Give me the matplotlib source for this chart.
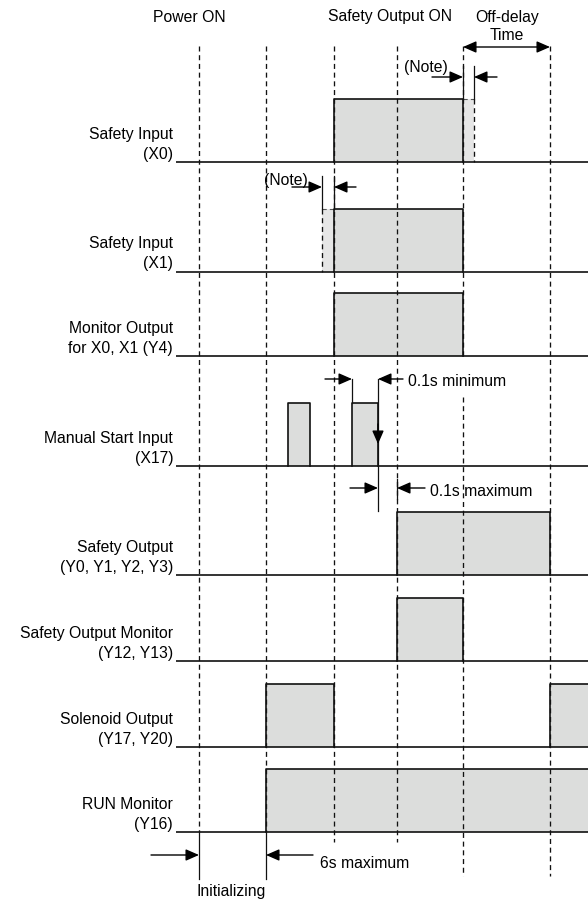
import matplotlib
matplotlib.use("Agg")
import matplotlib.pyplot as plt
from matplotlib.patches import Rectangle

plt.rcParams['font.family'] = ['Liberation Sans', 'DejaVu Sans']

# ---------------- data ----------------
# event times (schematic time axis, shown as vertical dashed guides)
event_names = ["Power ON", "Init end", "Inputs ON", "Safety Output ON", "Inputs OFF", "Off-delay end"]
event_t = [199, 266, 334, 397, 463, 550]

row_labels = [
    ("Safety Input", "(X0)"),
    ("Safety Input", "(X1)"),
    ("Monitor Output", "for X0, X1 (Y4)"),
    ("Manual Start Input", "(X17)"),
    ("Safety Output", "(Y0, Y1, Y2, Y3)"),
    ("Safety Output Monitor", "(Y12, Y13)"),
    ("Solenoid Output", "(Y17, Y20)"),
    ("RUN Monitor", "(Y16)"),
]
# ON intervals (start, end) on the time axis for each signal
row_on = [
    [(334, 463)],
    [(334, 463)],
    [(334, 463)],
    [(288, 310), (352, 378)],
    [(397, 550)],
    [(397, 463)],
    [(266, 334), (550, 620)],
    [(266, 620)],
]
# tolerance (Note) extensions
x0_note = (463, 474)
x1_note = (322, 334)

# ---------------- layout ----------------
W, H = 588, 903
row_base = [162.5, 272.5, 357, 467, 576, 662, 748, 833]
pulse_h = 63
FILL = "#dcdddc"
FILL2 = "#e6e6e6"
EDGE = "#111111"
FS = 11.3

fig = plt.figure(figsize=(W / 100, H / 100), dpi=100)
ax = fig.add_axes([0, 0, 1, 1])
ax.set_xlim(0, W)
ax.set_ylim(H, 0)
ax.axis("off")

dash = (0, (3.8, 2.8))
DLW = 0.95

def arrow(tail, head):
    ax.annotate("", xy=head, xytext=tail,
                arrowprops=dict(arrowstyle="-|>,head_length=0.8,head_width=0.35",
                                color="black", lw=1.0, shrinkA=0, shrinkB=0))

# signals
for (l1, l2), base, ons in zip(row_labels, row_base, row_on):
    ax.plot([176, W], [base, base], color=EDGE, lw=1.2, solid_capstyle="butt", zorder=3)
    for (a, b) in ons:
        ax.add_patch(Rectangle((a, base - pulse_h), b - a, pulse_h, facecolor=FILL,
                               edgecolor="none", zorder=1))
        ax.plot([a, a, b, b], [base, base - pulse_h, base - pulse_h, base],
                color=EDGE, lw=1.2, zorder=3)
    ax.text(173, base - 24, l1, ha="right", va="baseline", fontsize=FS)
    ax.text(173, base - 4, l2, ha="right", va="baseline", fontsize=FS)

# note extensions
b0 = row_base[0]
ax.add_patch(Rectangle((x0_note[0], b0 - pulse_h), x0_note[1] - x0_note[0], pulse_h,
                       facecolor=FILL2, edgecolor="none", zorder=1))
ax.plot([x0_note[0], x0_note[1]], [b0 - pulse_h] * 2, color="#555555", lw=0.8, ls=dash, zorder=2)
ax.plot([x0_note[1], x0_note[1]], [b0 - pulse_h, b0], color=EDGE, lw=DLW, ls=dash, zorder=2)
ax.plot([x0_note[0], x0_note[0]], [67, b0 - pulse_h], color=EDGE, lw=0.9, zorder=3)
ax.plot([x0_note[1], x0_note[1]], [67, b0 - pulse_h], color=EDGE, lw=0.9, zorder=3)

b1 = row_base[1]
ax.add_patch(Rectangle((x1_note[0], b1 - pulse_h), x1_note[1] - x1_note[0], pulse_h,
                       facecolor=FILL2, edgecolor="none", zorder=1))
ax.plot([x1_note[0], x1_note[1]], [b1 - pulse_h] * 2, color="#555555", lw=0.8, ls=dash, zorder=2)
ax.plot([x1_note[0], x1_note[0]], [b1 - pulse_h, b1], color=EDGE, lw=DLW, ls=dash, zorder=2)
ax.plot([x1_note[0], x1_note[0]], [177, b1 - pulse_h], color=EDGE, lw=0.9, zorder=3)
ax.plot([x1_note[1], x1_note[1]], [177, b1 - pulse_h], color=EDGE, lw=0.9, zorder=3)

# dashed event guides
t0, t1, t2, t3, t4, t5 = event_t
guides = [
    (t0, [(47, 833)]),
    (t1, [(47, 833)]),
    (t2, [(47, 843)]),
    (t3, [(47, 843)]),
    (t4, [(47, 357), (398, 877)]),
    (t5, [(47, 877)]),
]
for x, segs in guides:
    for (ya, yb) in segs:
        ax.plot([x, x], [ya, yb], color=EDGE, lw=DLW, ls=dash, zorder=2)
# solid extension lines for the initializing dimension
ax.plot([t0, t0], [833, 880], color=EDGE, lw=0.9, zorder=3)
ax.plot([t1, t1], [833, 880], color=EDGE, lw=0.9, zorder=3)

# header texts
ax.text(189, 22, "Power ON", ha="center", va="baseline", fontsize=FS)
ax.text(390, 21, "Safety Output ON", ha="center", va="baseline", fontsize=FS)
ax.text(507, 22, "Off-delay", ha="center", va="baseline", fontsize=FS)
ax.text(507, 40, "Time", ha="center", va="baseline", fontsize=FS)
ax.annotate("", xy=(t4, 48), xytext=(t5, 48),
            arrowprops=dict(arrowstyle="<|-|>,head_length=0.8,head_width=0.35",
                            color="black", lw=1.0, shrinkA=0, shrinkB=0))

# X0 note
ax.text(426, 72, "(Note)", ha="center", va="baseline", fontsize=FS)
arrow((432, 78), (x0_note[0], 78))
arrow((497, 78), (x0_note[1], 78))

# X1 note
ax.text(286, 185, "(Note)", ha="center", va="baseline", fontsize=FS)
arrow((292, 188), (x1_note[0], 188))
arrow((356, 188), (x1_note[1], 188))

# manual start timing
p2a, p2b = row_on[3][1]
ax.plot([p2a, p2a], [380, row_base[3] - pulse_h], color=EDGE, lw=0.9, zorder=3)
ax.plot([p2b, p2b], [380, 512], color=EDGE, lw=0.9, zorder=3)
arrow((p2b, 425), (p2b, 445))
arrow((325, 380), (p2a, 380))
arrow((403, 380), (p2b, 380))
ax.text(408, 386, "0.1s minimum", ha="left", va="baseline", fontsize=FS)
arrow((350, 489), (p2b, 489))
arrow((425, 489), (t3, 489))
ax.plot([t3, t3], [480, 500], color=EDGE, lw=0.9, zorder=3)
ax.text(430, 496, "0.1s maximum", ha="left", va="baseline", fontsize=FS)

# initializing dimension
arrow((151, 856), (t0, 856))
arrow((313, 856), (t1, 856))
ax.text(320, 868, "6s maximum", ha="left", va="baseline", fontsize=FS)
ax.text(231, 896, "Initializing", ha="center", va="baseline", fontsize=FS)

fig.savefig("out.png", dpi=100)
